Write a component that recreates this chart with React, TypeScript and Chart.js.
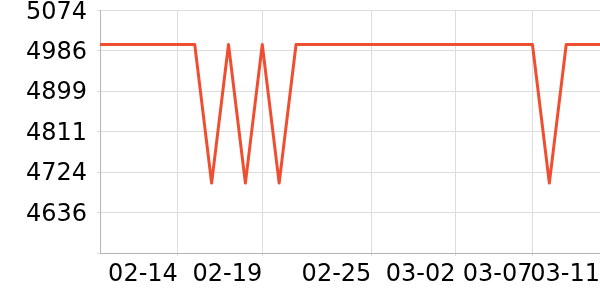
import React, { useEffect, useRef } from "react";
import { Chart, registerables } from "chart.js";

Chart.register(...registerables);

// Daily dates shown (the first ones run off the left edge of the plot)
const dates = [
  "02-09", "02-10", "02-11", "02-12", "02-13", "02-14", "02-15", "02-16",
  "02-17", "02-18", "02-19", "02-20", "02-21", "02-22", "02-23", "02-24",
  "02-25", "02-26", "02-27", "02-28", "03-01", "03-02", "03-03", "03-04",
  "03-05", "03-06", "03-07", "03-08", "03-09", "03-10", "03-11",
];
const values = [
  5000, 5000, 5000, 5000, 5000, 5000, 5000, 4700,
  5000, 4700, 5000, 4700, 5000, 5000, 5000, 5000,
  5000, 5000, 5000, 5000, 5000, 5000, 5000, 5000,
  5000, 5000, 5000, 4700, 5000, 5000, 5000,
];

// x axis (in day numbers, Feb d = d, Mar d = 28 + d)
const xMin = 9.39;
const xMax = 39;
const xTickValues = [14, 19, 25.46, 30.44, 35, 39];
const xTickLabels = ["02-14", "02-19", "02-25", "03-02", "03-07", "03-11"];

// y axis
const yMin = 4548.6;
const yMax = 5074;
const yTickValues = [4548.6, 4636.17, 4723.73, 4811.3, 4898.87, 4986.43, 5074];
const yTickLabels = ["", "4636", "4724", "4811", "4899", "4986", "5074"];

const dayNumber = (s: string) => {
  const [m, d] = s.split("-").map(Number);
  return (m === 2 ? 0 : 28) + d;
};

export default function App() {
  const ref = useRef<HTMLCanvasElement | null>(null);

  useEffect(() => {
    if (!ref.current) return;
    const family = "'DejaVu Sans', sans-serif";
    const chart = new Chart(ref.current, {
      type: "line",
      data: {
        datasets: [
          {
            data: dates.map((d, i) => ({ x: dayNumber(d), y: values[i] })),
            borderColor: "rgb(240,78,48)",
            borderWidth: 3,
            borderJoinStyle: "round",
            pointRadius: 0,
            tension: 0,
            fill: false,
            clip: 0,
          },
        ],
      },
      options: {
        animation: false,
        responsive: true,
        maintainAspectRatio: false,
        plugins: { legend: { display: false }, tooltip: { enabled: false } },
        layout: { padding: 0 },
        scales: {
          x: {
            type: "linear",
            min: xMin,
            max: xMax,
            afterBuildTicks: (scale: any) => {
              scale.ticks = xTickValues.map((v) => ({ value: v }));
            },
            afterFit: (scale: any) => {
              scale.height = 47;
            },
            ticks: {
              autoSkip: false,
              maxRotation: 0,
              align: "end",
              padding: 0,
              color: "#000",
              font: { family, size: 24, lineHeight: 1.56 },
              callback: (_v: any, i: number) => xTickLabels[i],
            },
            grid: { color: "#dddddd", tickLength: 3, lineWidth: 1 },
            border: { color: "#b4b4b4" },
          },
          y: {
            type: "linear",
            min: yMin,
            max: yMax,
            afterBuildTicks: (scale: any) => {
              scale.ticks = yTickValues.map((v) => ({ value: v }));
            },
            afterFit: (scale: any) => {
              scale.width = 100;
            },
            ticks: {
              autoSkip: false,
              padding: 10,
              labelOffset: 2,
              color: "#000",
              font: { family, size: 24, lineHeight: 0.025 },
              callback: (_v: any, i: number) => yTickLabels[i],
            },
            grid: { color: "#dddddd", tickLength: 3, lineWidth: 1 },
            border: { color: "#b4b4b4" },
          },
        },
      },
    } as any);
    return () => chart.destroy();
  }, []);

  return (
    <div style={{ position: "fixed", left: 0, top: 0, width: 600, height: 300 }}>
      <canvas ref={ref} />
    </div>
  );
}
